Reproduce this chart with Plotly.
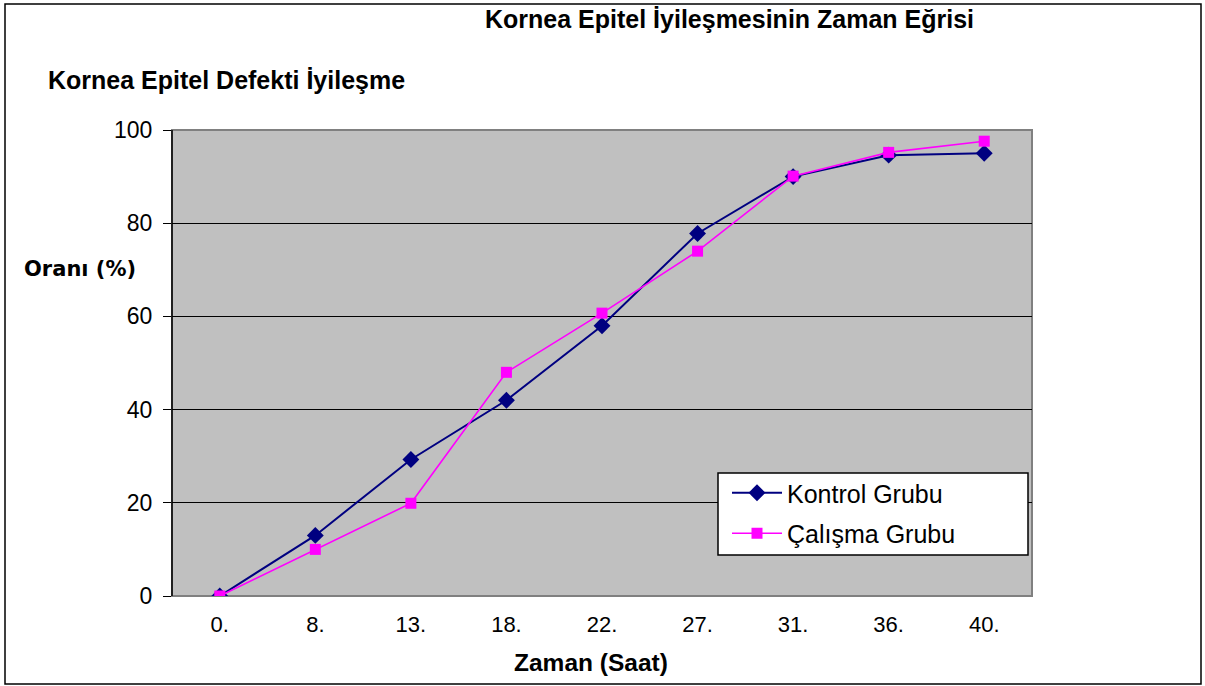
import plotly.graph_objects as go

categories = ["0.", "8.", "13.", "18.", "22.", "27.", "31.", "36.", "40."]
kontrol = [0, 13, 29.3, 42, 58, 77.8, 90, 94.6, 95]
calisma = [0, 10, 19.9, 48, 60.7, 74, 90.1, 95.2, 97.6]
y_ticks = [0, 20, 40, 60, 80, 100]

W, H = 1205, 686
L, R, T, B = 172, 1032, 130, 596
pw, ph = R - L, B - T

def px(x):
    return (x - L) / pw

def py(y):
    return (B - y) / ph

fig = go.Figure()
fig.add_trace(go.Scatter(
    x=categories, y=kontrol, name="Kontrol Grubu", mode="lines+markers",
    line=dict(color="#000080", width=2),
    marker=dict(symbol="diamond", size=13, color="#000080"),
    legendgroup="a"))
fig.add_trace(go.Scatter(
    x=categories, y=calisma, name="Çalışma Grubu", mode="lines+markers",
    line=dict(color="#FF00FF", width=1.6),
    marker=dict(symbol="square", size=11, color="#FF00FF"),
    legendgroup="b"))

fig.update_layout(
    width=W, height=H,
    margin=dict(l=L, r=W - R, t=T, b=H - B, autoexpand=False),
    paper_bgcolor="white", plot_bgcolor="#C0C0C0",
    font=dict(family="Liberation Sans, Arial", color="black"),
    showlegend=True,
    legend=dict(
        x=px(727), y=py(470), xanchor="left", yanchor="top",
        bgcolor="rgba(0,0,0,0)", borderwidth=0,
        font=dict(size=25, family="Liberation Sans, Arial", color="black"),
        traceorder="grouped", tracegroupgap=5,
        itemwidth=50,
    ),
    xaxis=dict(
        type="category", range=[-0.5, len(categories) - 0.5],
        showgrid=False, zeroline=False, showline=False,
        ticks="", ticklabelstandoff=13,
        tickfont=dict(size=22, family="Liberation Sans, Arial", color="black"),
    ),
    yaxis=dict(
        range=[0, 100], tickvals=y_ticks, showgrid=True, gridcolor="black", gridwidth=1,
        zeroline=False, showline=False,
        ticks="outside", ticklen=8, tickcolor="black", tickwidth=1,
        ticklabelstandoff=6,
        tickfont=dict(size=23, family="Liberation Sans, Arial", color="black"),
    ),
)

shapes = [
    # plot area border (gray)
    dict(type="rect", xref="paper", yref="paper", x0=0, y0=0, x1=1, y1=1,
         line=dict(color="#808080", width=2), layer="below"),
    # y axis line
    dict(type="line", xref="paper", yref="paper", x0=0, y0=0, x1=0, y1=1,
         line=dict(color="black", width=1.5), layer="above"),
    # legend box
    dict(type="rect", xref="paper", yref="paper", x0=px(718), y0=py(555), x1=px(1028), y1=py(473),
         fillcolor="white", line=dict(color="black", width=1.5), layer="above"),
    # outer chart border
    dict(type="rect", xref="paper", yref="paper", x0=px(5), y0=py(684), x1=px(1201), y1=py(4),
         line=dict(color="black", width=1.5), layer="above"),
]
fig.update_layout(shapes=shapes)

annotations = [
    dict(text="<b>Kornea Epitel İyileşmesinin Zaman Eğrisi</b>", x=px(729), y=py(19),
         font=dict(size=25, family="Liberation Sans, Arial")),
    dict(text="<b>Kornea Epitel Defekti İyileşme</b>", x=px(46), y=py(80), xanchor="left",
         font=dict(size=25, family="Liberation Sans, Arial")),
    dict(text="<b>Oranı (%)</b>", x=px(22), y=py(269), xanchor="left",
         font=dict(size=21, family="DejaVu Sans")),
    dict(text="<b>Zaman (Saat)</b>", x=px(591), y=py(662),
         font=dict(size=24.5, family="Liberation Sans, Arial")),
]
for a in annotations:
    a.setdefault("xanchor", "center")
    a.update(xref="paper", yref="paper", yanchor="middle", showarrow=False)
    a["font"]["color"] = "black"
fig.update_layout(annotations=annotations)

fig.write_html("out.html", config={"displayModeBar": False},
               post_script="document.body.style.margin='0';")
